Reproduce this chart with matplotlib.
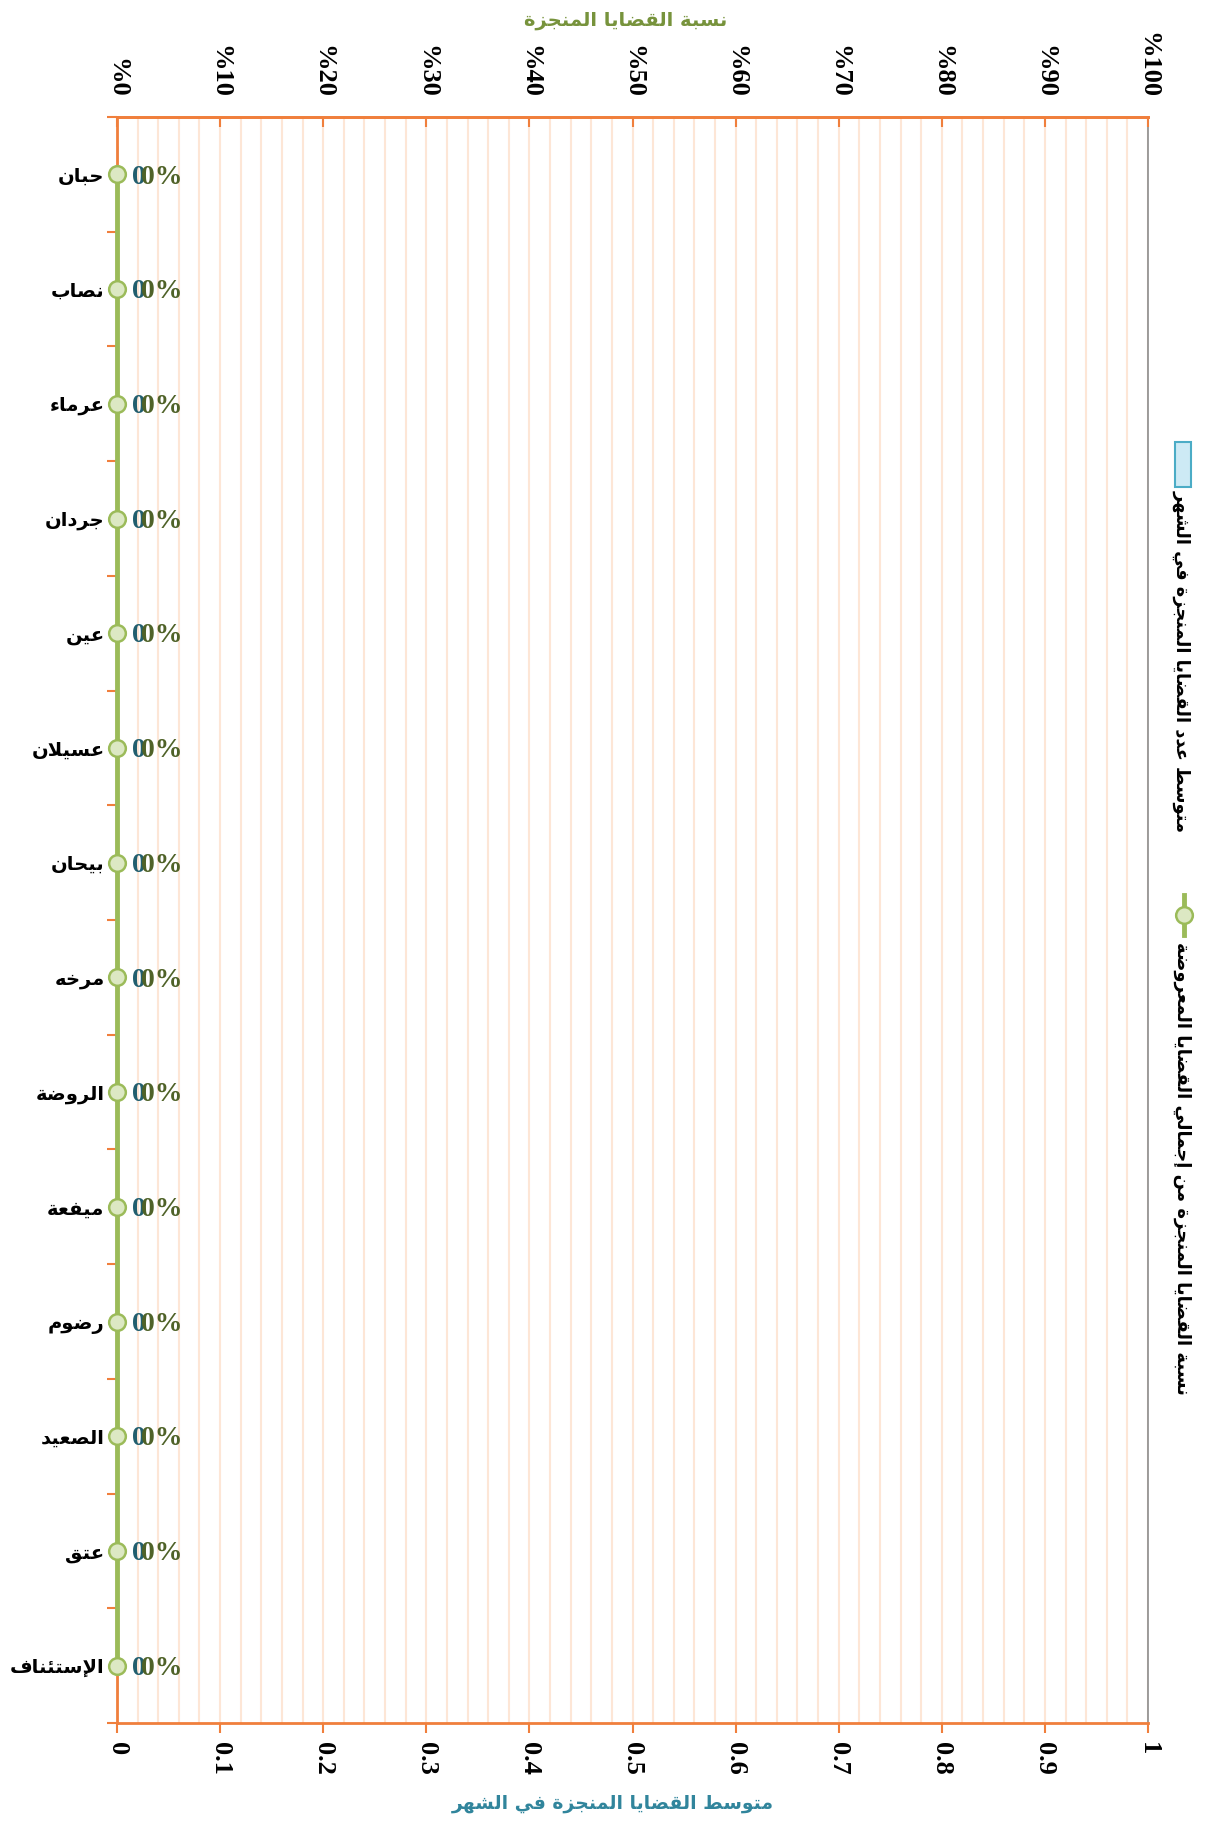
import matplotlib
matplotlib.use('Agg')
import matplotlib.pyplot as plt
from matplotlib.patches import Rectangle
from matplotlib.lines import Line2D
from matplotlib.ticker import FixedLocator, MultipleLocator

# البيانات
courts = ['حبان', 'نصاب', 'عرماء', 'جردان', 'عين', 'عسيلان', 'بيحان',
          'مرخه', 'الروضة', 'ميفعة', 'رضوم', 'الصعيد', 'عتق', 'الإستئناف']
avg_done_month = [0, 0, 0, 0, 0, 0, 0, 0, 0, 0, 0, 0, 0, 0]
done_ratio = [0, 0, 0, 0, 0, 0, 0, 0, 0, 0, 0, 0, 0, 0]
bottom_ticks = [0, 0.1, 0.2, 0.3, 0.4, 0.5, 0.6, 0.7, 0.8, 0.9, 1]
bottom_labels = ['0', '0.1', '0.2', '0.3', '0.4', '0.5', '0.6', '0.7', '0.8', '0.9', '1']
top_labels = ['%0', '%10', '%20', '%30', '%40', '%50', '%60', '%70', '%80', '%90', '%100']
bar_name = 'متوسط عدد القضايا المنجزة في الشهر'
line_name = 'نسبة القضايا المنجزة من إجمالي القضايا المعروضة'
top_title = 'نسبة القضايا المنجزة'
bottom_title = 'متوسط القضايا المنجزة في الشهر'

# matplotlib لا يشكّل الحروف العربية، فنحوّلها لأشكال العرض ونقلب الترتيب
FORMS = {
    'ء': (0xFE80, 1), 'آ': (0xFE81, 2), 'أ': (0xFE83, 2), 'ؤ': (0xFE85, 2), 'إ': (0xFE87, 2),
    'ئ': (0xFE89, 4), 'ا': (0xFE8D, 2), 'ب': (0xFE8F, 4), 'ة': (0xFE93, 2), 'ت': (0xFE95, 4),
    'ث': (0xFE99, 4), 'ج': (0xFE9D, 4), 'ح': (0xFEA1, 4), 'خ': (0xFEA5, 4), 'د': (0xFEA9, 2),
    'ذ': (0xFEAB, 2), 'ر': (0xFEAD, 2), 'ز': (0xFEAF, 2), 'س': (0xFEB1, 4), 'ش': (0xFEB5, 4),
    'ص': (0xFEB9, 4), 'ض': (0xFEBD, 4), 'ط': (0xFEC1, 4), 'ظ': (0xFEC5, 4), 'ع': (0xFEC9, 4),
    'غ': (0xFECD, 4), 'ف': (0xFED1, 4), 'ق': (0xFED5, 4), 'ك': (0xFED9, 4), 'ل': (0xFEDD, 4),
    'م': (0xFEE1, 4), 'ن': (0xFEE5, 4), 'ه': (0xFEE9, 4), 'و': (0xFEED, 2), 'ى': (0xFEEF, 2),
    'ي': (0xFEF1, 4),
}
LAM_ALEF = {'آ': 0xFEF5, 'أ': 0xFEF7, 'إ': 0xFEF9, 'ا': 0xFEFB}


def shape(text):
    chars = []
    i = 0
    while i < len(text):
        c = text[i]
        if c == 'ل' and i + 1 < len(text) and text[i + 1] in LAM_ALEF:
            chars.append(('LA', LAM_ALEF[text[i + 1]]))
            i += 2
        else:
            chars.append((c, None))
            i += 1
    out = []
    for k, (c, lig) in enumerate(chars):
        prev = chars[k - 1][0] if k > 0 else None
        nxt = chars[k + 1][0] if k + 1 < len(chars) else None
        joins_prev = prev in FORMS and FORMS[prev][1] == 4
        if lig is not None:
            out.append(chr(lig + (1 if joins_prev else 0)))
            continue
        if c not in FORMS:
            out.append(c)
            continue
        base, n = FORMS[c]
        if n == 1:
            out.append(chr(base))
            continue
        if n == 2:
            out.append(chr(base + 1 if joins_prev else base))
            continue
        joins_next = nxt == 'LA' or (nxt in FORMS and FORMS[nxt][1] > 1)
        if joins_prev and joins_next:
            out.append(chr(base + 3))
        elif joins_prev:
            out.append(chr(base + 1))
        elif joins_next:
            out.append(chr(base + 2))
        else:
            out.append(chr(base))
    return ''.join(reversed(out))


ORANGE = '#F07F3C'
GRID = '#FDE6D6'
GREEN = '#9BBB59'
AR = ['DejaVu Sans']
SERIF = ['Liberation Serif', 'DejaVu Serif']

fig = plt.figure(figsize=(12.08, 18.23), dpi=100)
ax = fig.add_axes([117 / 1208, 1 - 1723 / 1823, (1148 - 117) / 1208, (1723 - 117) / 1823])
pos = list(range(len(courts)))

# السلسلة الأولى: أعمدة (كلها صفر)
ax.barh(pos, avg_done_month, height=0.5, color='#CDEAF5', edgecolor='#4BACC6')
ax.set_xlim(0, 1)
ax.set_ylim(len(courts) - 0.5, -0.5)

ax.xaxis.set_major_locator(FixedLocator(bottom_ticks))
ax.set_xticklabels(bottom_labels, rotation=-90, fontsize=19, fontweight='bold', family=SERIF)
ax.xaxis.set_minor_locator(MultipleLocator(0.02))
ax.tick_params(axis='x', which='major', direction='out', length=7, width=1.5, color=ORANGE, pad=7)
ax.tick_params(axis='x', which='minor', length=0)
ax.grid(True, axis='x', which='both', color=GRID, lw=1.5, zorder=0)
ax.set_axisbelow(True)

# حدود الفئات
ax.yaxis.set_major_locator(FixedLocator([p - 0.5 for p in pos] + [len(courts) - 0.5]))
ax.yaxis.set_major_formatter(plt.NullFormatter())
ax.yaxis.set_minor_locator(FixedLocator(pos))
ax.set_yticklabels([shape(c) for c in courts], minor=True, fontsize=14, fontweight='bold', family=AR)
ax.tick_params(axis='y', which='major', direction='out', length=7, width=1.5, color=ORANGE)
ax.tick_params(axis='y', which='minor', length=0, pad=9)

for side in ['left', 'bottom', 'top']:
    ax.spines[side].set_color(ORANGE)
    ax.spines[side].set_linewidth(2)
ax.spines['right'].set_color('#8C8C8C')
ax.spines['right'].set_linewidth(1.2)

ax.set_xlabel(shape(bottom_title), fontsize=13.5, fontweight='bold', color='#31859C', family=AR)
ax.xaxis.set_label_coords(0.481, -0.044)

# المحور العلوي للنسبة
ax2 = ax.twiny()
ax2.set_xlim(0, 1)
ax2.xaxis.set_major_locator(FixedLocator(bottom_ticks))
ax2.set_xticklabels(top_labels, rotation=-90, fontsize=19, fontweight='bold', family=SERIF)
ax2.tick_params(axis='x', direction='in', length=7, width=1.5, color=ORANGE, pad=14)
for side in ['left', 'bottom', 'right']:
    ax2.spines[side].set_visible(False)
ax2.spines['top'].set_color(ORANGE)
ax2.spines['top'].set_linewidth(2)
ax2.set_xlabel(shape(top_title), fontsize=14, fontweight='bold', color='#77933C', family=AR)
ax2.xaxis.set_label_coords(0.493, 1.057)

ax2.plot(done_ratio, pos, color=GREEN, lw=3.5, marker='o', ms=12, mfc='#DCE8C3',
         mec=GREEN, mew=1.8, clip_on=False, zorder=5)

# تسميات البيانات
for p, v, r in zip(pos, avg_done_month, done_ratio):
    ax.annotate(f'{v:g}', (v, p), xytext=(11, -2), textcoords='offset points',
                ha='left', va='center', fontsize=20, fontweight='bold', color='#215E6E',
                family=SERIF, annotation_clip=False)
    ax2.annotate(f'{r:.0%}', (r, p), xytext=(17.5, -2), textcoords='offset points',
                 ha='left', va='center', fontsize=20, fontweight='bold', color='#4F6228',
                 family=SERIF, annotation_clip=False, zorder=6)

# مفتاح الرسم (مدوّر)
lx = 1182 / 1208
fig.add_artist(Rectangle((1175 / 1208, 1 - 487 / 1823), 16 / 1208, 45 / 1823,
                         transform=fig.transFigure, facecolor='#CDEAF5', edgecolor='#4BACC6', lw=1.5))
fig.text(lx, 1 - 490 / 1823, shape(bar_name), rotation=-90, ha='center', va='top',
         fontsize=12.8, fontweight='bold', family=AR)
fig.add_artist(Line2D([1184 / 1208, 1184 / 1208], [1 - 895 / 1823, 1 - 935 / 1823],
                      transform=fig.transFigure, color=GREEN, lw=3.5))
fig.add_artist(Line2D([1184 / 1208], [1 - 915 / 1823], transform=fig.transFigure,
                      marker='o', ms=12, mfc='#DCE8C3', mec=GREEN, mew=1.8))
fig.text(lx, 1 - 942 / 1823, shape(line_name), rotation=-90, ha='center', va='top',
         fontsize=13, fontweight='bold', family=AR)

fig.savefig('out.png', dpi=100, facecolor='white')
